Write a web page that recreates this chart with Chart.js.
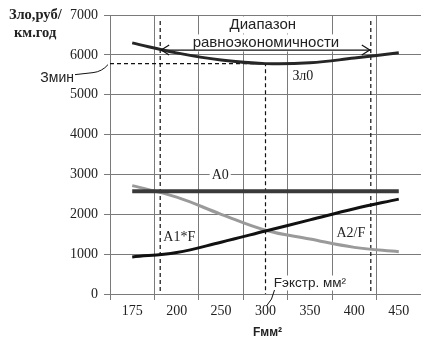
<!DOCTYPE html>
<html>
<head>
<meta charset="utf-8">
<script src="https://cdn.jsdelivr.net/npm/chart.js@4"></script>
<style>
html, body { margin: 0; padding: 0; background: #fff; }
#wrap { width: 421px; height: 342px; }
</style>
</head>
<body>
<div id="wrap"><canvas id="costChart" width="421" height="342"></canvas></div>
<script>
// Сечения провода, мм2 (категории оси X)
const sections = ['175', '200', '250', '300', '350', '400', '450'];
// Затраты, руб/км.год
const totalCost = [6300, 6050, 5870, 5780, 5800, 5920, 6050];   // Зл0
const fixedPart = [2580, 2580, 2580, 2580, 2580, 2580, 2580];   // A0
const linearPart = [930, 1040, 1300, 1580, 1860, 2140, 2380];   // A1*F
const inversePart = [2720, 2430, 2000, 1600, 1380, 1170, 1060]; // A2/F
const yTicks = [0, 1000, 2000, 3000, 4000, 5000, 6000, 7000];
// Минимум и диапазон равноэкономичности (в индексах категорий)
const minCost = 5780;
const extrIndex = 3;
const rangeEdges = [0.63, 5.37];
const rangeTop = 6850;
const rangeArrowY = 6120;

const serif = '"Liberation Serif", "Times New Roman", serif';
const sans = '"Liberation Sans", Arial, sans-serif';
const gridColor = '#7a7a7a';

const notes = [
    { text: 'Зл0', x: 3.84, y: 5460, font: '14px ' + serif },
    { text: 'A0', x: 1.98, y: 2980, font: '14px ' + serif, bg: true },
    { text: 'A1*F', x: 1.06, y: 1430, font: '14px ' + serif },
    { text: 'A2/F', x: 4.92, y: 1530, font: '14px ' + serif },
    { text: 'Fэкстр. мм²', x: 4.0, y: 276, font: '13.5px ' + sans, bg: true },
    { text: 'Диапазон', x: 2.94, y: 6750, font: '15px ' + sans, bg: true },
    { text: 'равноэкономичности', x: 3.01, y: 6300, font: '15px ' + sans, bg: true }
];

const annotate = {
    id: 'annotate',
    beforeDatasetsDraw(chart) {
        const { ctx, scales: { xv, y } } = chart;
        ctx.save();
        ctx.fillStyle = '#fff';
        notes.filter(n => n.bg).forEach(n => {
            ctx.font = n.font;
            const w = ctx.measureText(n.text).width + 4;
            const h = parseInt(n.font) + 2;
            ctx.fillRect(xv.getPixelForValue(n.x) - w / 2, y.getPixelForValue(n.y) - h / 2, w, h);
        });
        ctx.restore();
    },
    afterDatasetsDraw(chart) {
        const { ctx, chartArea, scales: { xv, y } } = chart;
        ctx.save();
        ctx.fillStyle = '#222';
        ctx.textAlign = 'center';
        ctx.textBaseline = 'middle';
        notes.forEach(n => {
            ctx.font = n.font;
            ctx.fillText(n.text, xv.getPixelForValue(n.x), y.getPixelForValue(n.y));
        });

        // стрелки диапазона
        const ya = y.getPixelForValue(rangeArrowY);
        const xl = xv.getPixelForValue(rangeEdges[0]);
        const xr = xv.getPixelForValue(rangeEdges[1]);
        ctx.strokeStyle = '#111';
        ctx.lineWidth = 1.2;
        ctx.beginPath();
        ctx.moveTo(xl + 9, ya - 5); ctx.lineTo(xl + 1, ya); ctx.lineTo(xl + 9, ya + 5);
        ctx.moveTo(xr - 9, ya - 5); ctx.lineTo(xr - 1, ya); ctx.lineTo(xr - 9, ya + 5);
        ctx.stroke();

        // выноска Змин
        const ym = y.getPixelForValue(minCost);
        const left = chartArea.left;
        ctx.lineWidth = 1;
        ctx.beginPath();
        ctx.moveTo(left - 35, ym + 11);
        ctx.lineTo(left - 17, ym + 9);
        ctx.quadraticCurveTo(left - 8, ym + 8, left - 2, ym + 1);
        ctx.stroke();
        ctx.font = '14px ' + sans;
        ctx.textAlign = 'right';
        ctx.fillText('Змин', left - 36, ym + 15);

        // выноска Fэкстр
        const xf = xv.getPixelForValue(extrIndex);
        const bottom = chartArea.bottom;
        ctx.beginPath();
        ctx.moveTo(xf + 1, bottom + 12);
        ctx.quadraticCurveTo(xf + 7, bottom + 6, xf + 9, bottom - 4);
        ctx.stroke();

        // подписи осей
        ctx.textAlign = 'left';
        ctx.font = 'bold 14.5px ' + serif;
        ctx.fillText('Зло,руб/', 9, 15);
        ctx.fillText('км.год', 14, 33);
        ctx.textAlign = 'center';
        ctx.font = 'bold 12px ' + sans;
        ctx.fillText('Fмм²', xf + 2, 333);
        ctx.restore();
    }
};

const dashed = { borderColor: '#111', borderWidth: 1.2, borderDash: [4, 3], pointRadius: 0, xAxisID: 'xv', tension: 0 };

const ctx = document.getElementById('costChart').getContext('2d');
const costChart = new Chart(ctx, {
    type: 'line',
    data: {
        labels: sections,
        datasets: [
            { label: 'Зл0', data: totalCost, borderColor: '#262626', borderWidth: 3 },
            { label: 'A0', data: fixedPart, borderColor: '#3a3a3a', borderWidth: 4 },
            { label: 'A1*F', data: linearPart, borderColor: '#111', borderWidth: 3 },
            { label: 'A2/F', data: inversePart, borderColor: '#9a9a9a', borderWidth: 3 },
            Object.assign({ label: 'Змин', data: [{ x: -0.5, y: minCost }, { x: extrIndex, y: minCost }, { x: extrIndex, y: 0 }] }, dashed),
            Object.assign({ label: 'left', data: [{ x: rangeEdges[0], y: rangeTop }, { x: rangeEdges[0], y: 0 }] }, dashed),
            Object.assign({ label: 'right', data: [{ x: rangeEdges[1], y: rangeTop }, { x: rangeEdges[1], y: 0 }] }, dashed),
            { label: 'arrow', data: [{ x: rangeEdges[0], y: rangeArrowY }, { x: rangeEdges[1], y: rangeArrowY }],
              borderColor: '#111', borderWidth: 1.2, pointRadius: 0, xAxisID: 'xv' }
        ]
    },
    options: {
        responsive: false,
        animation: false,
        devicePixelRatio: 1,
        layout: { padding: { top: 15, right: 0, bottom: 0, left: 0 } },
        elements: { line: { tension: 0.4 }, point: { radius: 0 } },
        plugins: { legend: { display: false }, tooltip: { enabled: false } },
        scales: {
            x: {
                type: 'category',
                offset: true,
                grid: { offset: true, color: gridColor, tickLength: 6 },
                border: { color: gridColor },
                ticks: { color: '#222', font: { family: serif, size: 14 }, padding: 3, maxRotation: 0 },
                afterFit: s => { s.height = 48; }
            },
            xv: { type: 'linear', min: -0.5, max: 6.5, display: false },
            y: {
                min: yTicks[0],
                max: yTicks[yTicks.length - 1],
                afterBuildTicks: s => { s.ticks = yTicks.map(v => ({ value: v })); },
                grid: { color: gridColor, tickLength: 6 },
                border: { color: gridColor },
                ticks: { color: '#222', font: { family: serif, size: 14 }, padding: 6, callback: v => String(v) },
                afterFit: s => { s.width = 110; }
            }
        }
    },
    plugins: [annotate]
});
</script>
</body>
</html>
